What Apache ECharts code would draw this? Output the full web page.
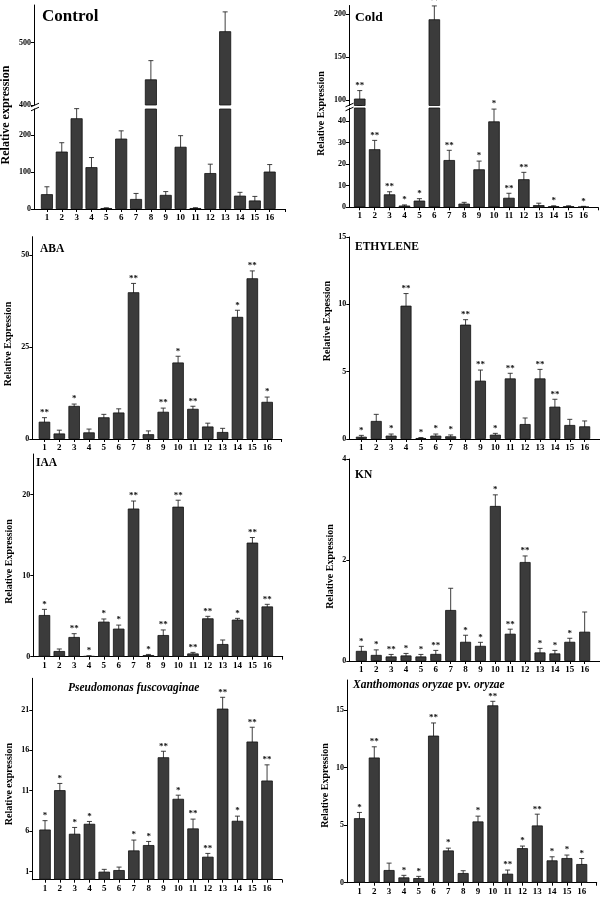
<!DOCTYPE html>
<html><head><meta charset="utf-8">
<script src="https://cdn.jsdelivr.net/npm/echarts@6/dist/echarts.min.js"></script>
<style>html,body{margin:0;padding:0;background:#fff}#c{width:600px;height:897px}</style>
</head><body><div id="c"></div>
<script>
// ---- data ----
const genes = ['1','2','3','4','5','6','7','8','9','10','11','12','13','14','15','16'];

const controlValues = [40, 155, 245, 113, 2.5, 190, 27, 441, 38, 168, 2.5, 97, 518, 36, 23, 101];
const controlErrors = [20, 24, 26, 26, 0.5, 21, 15, 30, 9, 30, 1, 24, 31, 9, 11, 19];
const controlSig    = ['','','','','','','','','','','','','','','',''];

const coldValues = [102, 26.9, 6.0, 0.8, 3.1, 194, 21.9, 1.7, 17.6, 39.8, 4.4, 13.0, 1.0, 0.5, 0.5, 0.3];
const coldErrors = [9.3, 4.1, 1.2, 0.3, 0.9, 15.5, 4.5, 0.6, 3.8, 5.7, 2.1, 3.2, 0.9, 0.2, 0.2, 0.15];
const coldSig    = ['**','**','**','*','*','**','**','','*','*','**','**','','*','','*'];

const abaValues = [4.7, 1.5, 9.0, 1.8, 5.9, 7.2, 39.9, 1.3, 7.4, 20.8, 8.2, 3.4, 1.9, 33.2, 43.7, 10.1];
const abaErrors = [1.1, 0.9, 0.5, 0.9, 0.8, 1.0, 2.4, 0.9, 1.0, 1.7, 0.7, 0.9, 1.0, 1.8, 2.0, 1.3];
const abaSig    = ['**','','*','','','','**','','**','*','**','','','*','**','*'];

const ethValues = [0.17, 1.34, 0.25, 9.9, 0.07, 0.25, 0.2, 8.49, 4.33, 0.32, 4.5, 1.11, 4.5, 2.4, 1.04, 0.94];
const ethErrors = [0.1, 0.49, 0.12, 0.9, 0.04, 0.12, 0.1, 0.37, 0.79, 0.1, 0.38, 0.45, 0.67, 0.55, 0.42, 0.4];
const ethSig    = ['*','','*','**','*','*','*','**','**','*','**','','**','**','',''];

const iaaValues = [5.14, 0.7, 2.43, 0.08, 4.32, 3.46, 18.27, 0.2, 2.67, 18.5, 0.4, 4.73, 1.56, 4.57, 14.07, 6.2];
const iaaErrors = [0.7, 0.25, 0.41, 0.03, 0.33, 0.44, 0.93, 0.08, 0.63, 0.8, 0.13, 0.25, 0.5, 0.16, 0.63, 0.26];
const iaaSig    = ['*','','**','*','*','*','**','*','**','**','**','**','','*','**','**'];

const knValues = [0.2, 0.12, 0.09, 0.11, 0.09, 0.14, 1.01, 0.38, 0.30, 3.07, 0.54, 1.96, 0.17, 0.15, 0.38, 0.58];
const knErrors = [0.09, 0.1, 0.04, 0.04, 0.04, 0.07, 0.43, 0.13, 0.07, 0.22, 0.09, 0.12, 0.08, 0.06, 0.07, 0.39];
const knSig    = ['*','*','**','*','*','**','','*','*','*','**','**','*','*','*',''];

const pfValues = [6.2, 11.07, 5.68, 6.91, 0.99, 1.19, 3.62, 4.28, 15.14, 10.0, 6.34, 2.84, 21.15, 7.28, 17.08, 12.26];
const pfErrors = [1.1, 0.83, 0.78, 0.29, 0.29, 0.37, 1.28, 0.45, 0.74, 0.45, 1.15, 0.41, 1.4, 0.58, 1.77, 1.94];
const pfSig    = ['*','*','*','*','','','*','*','**','*','**','**','**','*','**','**'];

const xooValues = [5.6, 10.87, 1.1, 0.46, 0.4, 12.77, 2.8, 0.84, 5.32, 15.4, 0.78, 3.0, 4.97, 1.94, 2.14, 1.62];
const xooErrors = [0.5, 0.93, 0.6, 0.18, 0.15, 1.1, 0.2, 0.2, 0.46, 0.35, 0.32, 0.18, 0.98, 0.31, 0.26, 0.48];
const xooSig    = ['*','**','','*','*','**','*','','*','**','**','*','**','*','*','*'];

// ---- build ----
const FONT = '"Liberation Serif", "Times New Roman", serif';
const grids = [], xAxes = [], yAxes = [], series = [];
const tickPos = genes.map((g, i) => i + 1);

function addGrid(o) {
  const gi = grids.length;
  grids.push({left: o.left, top: o.top, width: o.width, height: o.height, containLabel: false});
  xAxes.push({
    gridIndex: gi, type: 'value', min: o.xmin, max: o.xmax, show: o.showX,
    axisLine: {show: true, onZero: false, lineStyle: {color: '#000', width: 1}},
    axisTick: {show: true, customValues: tickPos.concat([o.xmax]), length: 3, lineStyle: {color: '#000'}},
    axisLabel: {customValues: tickPos, formatter: v => genes[Math.round(v) - 1] || '',
      fontFamily: FONT, fontWeight: 'bold', fontSize: 9, color: '#000', margin: 4},
    splitLine: {show: false}
  });
  yAxes.push({
    gridIndex: gi, type: 'value', min: o.ymin, max: o.ymax,
    axisLine: {show: true, lineStyle: {color: '#000', width: 1}},
    axisTick: {show: true, customValues: o.yTicks, length: 3, lineStyle: {color: '#000'}},
    axisLabel: {customValues: o.yTicks, fontFamily: FONT, fontWeight: 'bold', fontSize: 8, color: '#000', margin: 3},
    splitLine: {show: false}
  });
  const keep = o.keep || (() => true);
  const barData = [], errData = [];
  o.values.forEach((v, i) => {
    if (o.barKeep ? o.barKeep(v) : true) barData.push([i + 1, v]);
    if (keep(v)) errData.push([i + 1, v, o.errors[i]]);
  });
  series.push({
    type: 'bar', xAxisIndex: gi, yAxisIndex: gi, data: barData, barWidth: o.barWidth || 11.5,
    itemStyle: {color: '#3b3b3b', borderColor: '#111', borderWidth: 0.8}, silent: true, animation: false
  });
  const sig = o.sig, ymin = o.ymin;
  series.push({
    type: 'custom', xAxisIndex: gi, yAxisIndex: gi, data: errData, animation: false, silent: true,
    renderItem: (params, api) => {
      const x = api.value(0), v = api.value(1), e = api.value(2);
      const hi = api.coord([x, v + e]);
      const lo = api.coord([x, Math.max(v - e, ymin)]);
      const c = 2.5;
      const st = {stroke: '#2a2a2a', lineWidth: 0.9};
      const ch = [
        {type: 'line', shape: {x1: hi[0], y1: hi[1], x2: lo[0], y2: lo[1]}, style: st},
        {type: 'line', shape: {x1: hi[0] - c, y1: hi[1], x2: hi[0] + c, y2: hi[1]}, style: st},
        {type: 'line', shape: {x1: lo[0] - c, y1: lo[1], x2: lo[0] + c, y2: lo[1]}, style: st}
      ];
      const s = sig[Math.round(x) - 1];
      if (s) ch.push({type: 'text', style: {text: s, x: hi[0], y: hi[1] - 0.5, align: 'center',
        verticalAlign: 'bottom', font: 'bold 9px ' + FONT, fill: '#111'}});
      return {type: 'group', children: ch};
    }
  });
}

// Control (broken axis)
addGrid({left: 34, top: 5, width: 251, height: 100, xmin: 0.13, xmax: 17.03, showX: false,
  ymin: 400, ymax: 560, yTicks: [400, 500], values: controlValues, errors: controlErrors, sig: controlSig,
  barKeep: v => v > 270, keep: v => v > 270, barWidth: 12});
addGrid({left: 34, top: 109, width: 251, height: 100, xmin: 0.13, xmax: 17.03, showX: true,
  ymin: 0, ymax: 270, yTicks: [0, 100, 200], values: controlValues, errors: controlErrors, sig: controlSig,
  keep: v => v <= 270, barWidth: 12});
// Cold (broken axis)
addGrid({left: 349, top: 5.5, width: 249, height: 100, xmin: 0.28, xmax: 16.97, showX: false,
  ymin: 94, ymax: 210, yTicks: [100, 150, 200], values: coldValues, errors: coldErrors, sig: coldSig,
  barKeep: v => v > 46, keep: v => v > 46});
addGrid({left: 349, top: 108, width: 249, height: 99.3, xmin: 0.28, xmax: 16.97, showX: true,
  ymin: 0, ymax: 46, yTicks: [0, 10, 20, 30, 40], values: coldValues, errors: coldErrors, sig: coldSig,
  keep: v => v <= 46});
// ABA
addGrid({left: 32.3, top: 236.7, width: 249.4, height: 202.3, xmin: 0.18, xmax: 16.98, showX: true,
  ymin: 0, ymax: 55, yTicks: [0, 25, 50], values: abaValues, errors: abaErrors, sig: abaSig});
// ETHYLENE
addGrid({left: 349.3, top: 237, width: 250.7, height: 202, xmin: 0.19, xmax: 17.03, showX: true,
  ymin: 0, ymax: 15, yTicks: [0, 5, 10, 15], values: ethValues, errors: ethErrors, sig: ethSig, barWidth: 11});
// IAA
addGrid({left: 33.3, top: 454, width: 249.4, height: 202.7, xmin: 0.25, xmax: 17.04, showX: true,
  ymin: 0, ymax: 25, yTicks: [0, 10, 20], values: iaaValues, errors: iaaErrors, sig: iaaSig});
// KN
addGrid({left: 349.3, top: 459, width: 250.7, height: 202, xmin: 0.19, xmax: 17.03, showX: true,
  ymin: 0, ymax: 4, yTicks: [0, 2, 4], values: knValues, errors: knErrors, sig: knSig, barWidth: 11});
// Pseudomonas
addGrid({left: 32.3, top: 678.3, width: 249.7, height: 201.4, xmin: 0.14, xmax: 17.01, showX: true,
  ymin: 0, ymax: 24.9, yTicks: [1, 6, 11, 16, 21], values: pfValues, errors: pfErrors, sig: pfSig});
// Xanthomonas
addGrid({left: 347, top: 680, width: 249.7, height: 202.7, xmin: 0.16, xmax: 17.01, showX: true,
  ymin: 0, ymax: 17.6, yTicks: [0, 5, 10, 15], values: xooValues, errors: xooErrors, sig: xooSig, barWidth: 11});

// ---- titles, axis names, break marks ----
const graphic = [];
function title(text, x, y, size, extra) {
  graphic.push({type: 'text', x: x, y: y, silent: true,
    style: Object.assign({text: text, font: 'bold ' + size + 'px ' + FONT, fill: '#000', verticalAlign: 'middle'}, extra || {})});
}
title('Control', 42, 17, 17);
title('Cold', 355, 18, 13.5);
title('ABA', 40, 249, 11.5);
title('ETHYLENE', 355, 247, 11.5);
title('IAA', 36, 463, 11.5);
title('KN', 355, 475, 11.5);
title('Pseudomonas fuscovaginae', 68, 688, 11.5, {font: 'italic bold 11.5px ' + FONT});
graphic.push({type: 'text', x: 353, y: 685, silent: true, style: {
  text: '{i|Xanthomonas oryzae} {b|pv.} {i|oryzae}', verticalAlign: 'middle',
  rich: {i: {fontFamily: FONT, fontWeight: 'bold', fontStyle: 'italic', fontSize: 11.5, fill: '#000', color: '#000'},
         b: {fontFamily: FONT, fontWeight: 'bold', fontSize: 11.5, fill: '#000', color: '#000'}}}});

function yname(text, x, y, size) {
  graphic.push({type: 'text', x: x, y: y, rotation: Math.PI / 2, silent: true,
    style: {text: text, font: 'bold ' + size + 'px ' + FONT, fill: '#000', align: 'center', verticalAlign: 'middle'}});
}
yname('Relative expression', 6, 115, 12);
yname('Relative Expression', 321.7, 113.5, 10);
yname('Relative Expression', 8.3, 344, 10);
yname('Relative Expession', 327, 321, 10);
yname('Relative Expression', 9, 561.5, 10);
yname('Relative Expression', 330.7, 566.5, 10);
yname('Relative expression', 9, 784, 10);
yname('Relative Expression', 325, 785.5, 10);

function brk(x, y) {
  [[-1.5], [2.5]].forEach(d => {
    graphic.push({type: 'line', silent: true,
      shape: {x1: x - 4, y1: y + d[0] + 1.8, x2: x + 4, y2: y + d[0] - 1.8},
      style: {stroke: '#000', lineWidth: 1}});
  });
}
brk(35, 106.5);
brk(349.5, 106.5);

const chart = echarts.init(document.getElementById('c'), null, {renderer: 'canvas'});
chart.setOption({
  animation: false,
  backgroundColor: '#fff',
  grid: grids, xAxis: xAxes, yAxis: yAxes, series: series, graphic: graphic
});
</script></body></html>
